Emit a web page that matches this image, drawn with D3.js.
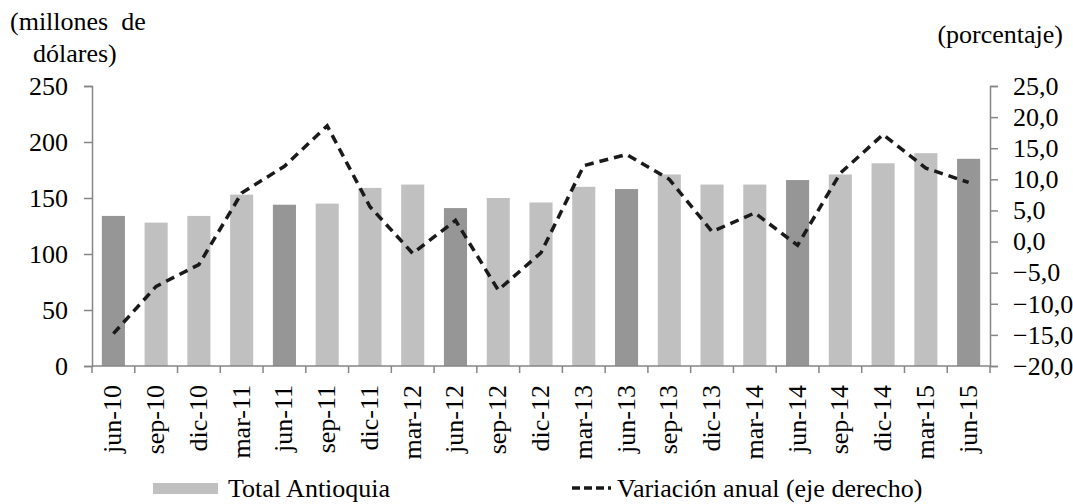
<!DOCTYPE html>
<html>
<head>
<meta charset="utf-8">
<script src="https://cdn.jsdelivr.net/npm/d3@7"></script>
<style>
  body { margin: 0; background: #fff; }
</style>
</head>
<body>
<div id="chart"></div>
<script>
'use strict';
// trimestres
const periods = ["jun-10", "sep-10", "dic-10", "mar-11", "jun-11", "sep-11", "dic-11", "mar-12",
  "jun-12", "sep-12", "dic-12", "mar-13", "jun-13", "sep-13", "dic-13", "mar-14",
  "jun-14", "sep-14", "dic-14", "mar-15", "jun-15"];
// Total Antioquia (millones de dólares)
const totalAntioquia = [134, 128, 134, 153, 144, 145, 159, 162, 141, 150, 146, 160,
  158, 171, 162, 162, 166, 171, 181, 190, 185];
// variación anual (%)
const variacionAnual = [-14.8, -7.2, -3.7, 7.8, 12.1, 18.6, 5.6, -1.9, 3.4, -7.8, -1.8, 12.2,
  14.0, 10.0, 1.6, 4.6, -0.6, 11.0, 17.2, 11.8, 9.5];
const leftTicks = [0, 50, 100, 150, 200, 250];
const rightTicks = [-20, -15, -10, -5, 0, 5, 10, 15, 20, 25];

const width = 1073, height = 504;
const plotLeft = 92, plotRight = 990, plotTop = 86, plotBottom = 366;
const fontSize = 26;
const fontFam = "'Liberation Serif'";
const axisColor = "#868686";

const svg = d3.select("#chart").append("svg")
  .attr("width", width)
  .attr("height", height);

const x = d3.scaleBand()
  .domain(periods)
  .range([plotLeft, plotRight])
  .paddingInner(0.46)
  .paddingOuter(0.23);

const yLeft = d3.scaleLinear().domain([0, 250]).range([plotBottom, plotTop]);
const yRight = d3.scaleLinear().domain([-20, 25]).range([plotBottom, plotTop]);

// bars: junio más oscuro
svg.append("g")
  .selectAll("rect")
  .data(totalAntioquia)
  .join("rect")
  .attr("x", (d, i) => x(periods[i]))
  .attr("y", d => yLeft(d))
  .attr("width", x.bandwidth())
  .attr("height", d => yLeft(0) - yLeft(d))
  .attr("fill", (d, i) => periods[i].startsWith("jun") ? "#969696" : "#c0c0c0");

function styleAxis(g) {
  g.attr("font-family", null);
  g.select(".domain").attr("stroke", axisColor).attr("stroke-width", 1.5);
  g.selectAll(".tick line").attr("stroke", axisColor).attr("stroke-width", 1.5);
  g.selectAll(".tick text")
    .style("font-family", fontFam)
    .style("font-size", fontSize + "px")
    .attr("fill", "#000");
}

// left axis
const axL = svg.append("g")
  .attr("transform", "translate(" + plotLeft + ",0)")
  .call(d3.axisLeft(yLeft).tickValues(leftTicks).tickSize(8).tickPadding(16));
styleAxis(axL);

// right axis
const fmt = d => d3.format(".1f")(d).replace(".", ",");
const axR = svg.append("g")
  .attr("transform", "translate(" + plotRight + ",0)")
  .call(d3.axisRight(yRight).tickValues(rightTicks).tickSize(8).tickPadding(15).tickFormat(fmt));
styleAxis(axR);

// x axis: ticks between categories
const xAxisG = svg.append("g");
xAxisG.append("line")
  .attr("x1", plotLeft).attr("x2", plotRight)
  .attr("y1", plotBottom).attr("y2", plotBottom)
  .attr("stroke", axisColor).attr("stroke-width", 1.5);
const step = x.step();
xAxisG.selectAll("line.tk")
  .data(d3.range(periods.length + 1))
  .join("line")
  .attr("class", "tk")
  .attr("x1", i => plotLeft + i * step)
  .attr("x2", i => plotLeft + i * step)
  .attr("y1", plotBottom)
  .attr("y2", plotBottom + 7)
  .attr("stroke", axisColor).attr("stroke-width", 1.5);
xAxisG.selectAll("text")
  .data(periods)
  .join("text")
  .attr("transform", d => "translate(" + (x(d) + x.bandwidth() / 2 + 8) + "," + (plotBottom + 19) + ") rotate(-90)")
  .attr("text-anchor", "end")
  .style("font-family", fontFam)
  .style("font-size", fontSize + "px")
  .text(d => d);

// line
const line = d3.line()
  .x((d, i) => x(periods[i]) + x.bandwidth() / 2)
  .y(d => yRight(d));
svg.append("path")
  .datum(variacionAnual)
  .attr("d", line)
  .attr("fill", "none")
  .attr("stroke", "#1a1a1a")
  .attr("stroke-width", 3.5)
  .attr("stroke-dasharray", "9,6");

function label(xp, yp, txt, anchor) {
  return svg.append("text")
    .attr("x", xp).attr("y", yp)
    .attr("text-anchor", anchor || "start")
    .style("font-family", fontFam)
    .style("font-size", fontSize + "px")
    .style("white-space", "pre")
    .text(txt);
}

// axis titles
label(10, 30, "(millones  de");
label(33, 62, "dólares)");
label(1063, 43, "(porcentaje)", "end");

// legend
svg.append("rect")
  .attr("x", 153).attr("y", 483)
  .attr("width", 65).attr("height", 11)
  .attr("fill", "#c0c0c0");
label(228, 497, "Total Antioquia");
svg.append("line")
  .attr("x1", 572).attr("x2", 611)
  .attr("y1", 488).attr("y2", 488)
  .attr("stroke", "#1a1a1a")
  .attr("stroke-width", 3.5)
  .attr("stroke-dasharray", "8,4");
label(617, 497, "Variación anual (eje derecho)");
</script>
</body>
</html>
